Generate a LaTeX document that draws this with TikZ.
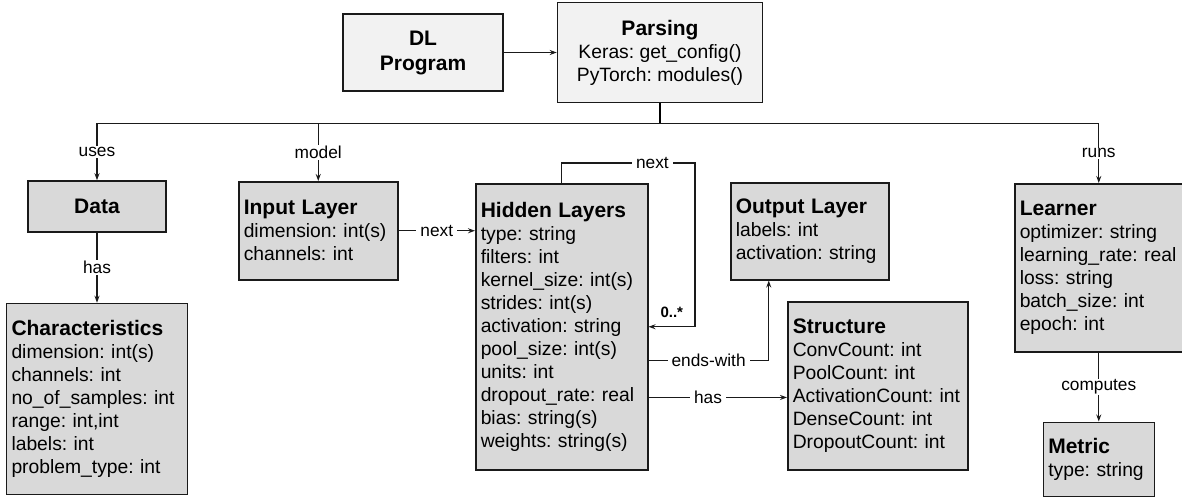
\documentclass[tikz,border=0pt]{standalone}
\usepackage{fontspec}
\setmainfont{Liberation Sans}
\usetikzlibrary{arrows.meta, positioning}
\definecolor{cline}{HTML}{1A1A1A}
\definecolor{clight}{HTML}{F2F2F2}
\definecolor{cdark}{HTML}{D9D9D9}
\frenchspacing
\newcommand{\cname}[1]{{\fontsize{21}{23}\selectfont\bfseries #1}}
\tikzset{
  every picture/.style={font=\fontsize{19.3}{23}\selectfont, line width=1.3pt},
}

\begin{document}
\begin{tikzpicture}[x=1pt, y=-1pt,
  headbox/.style={draw=cline, fill=clight, line width=1.5pt, align=center, inner sep=0pt},
  classbox/.style 2 args={draw=cline, fill=cdark, line width=1.5pt, anchor=north west, align=left, inner xsep=5pt, inner ysep=0pt, text width=#1, minimum height=#2},
  rel/.style={fill=white, inner xsep=4pt, inner ysep=1pt, font=\fontsize{17.3}{20}\selectfont},
  arrow/.style={-{Stealth[length=7pt, width=5pt]}, draw=cline}]
  \useasboundingbox (0,0) rectangle (1182,496);
  \node[headbox, minimum width=160pt, minimum height=77pt, font=\fontsize{21}{25}\selectfont\bfseries] (dl) at (423,52.5) {DL\\Program};
  \node[headbox, minimum width=205pt, minimum height=100pt, right=53pt of dl] (parse) {\cname{Parsing}\\Keras: get\_config()\\PyTorch: modules()};
  \node[headbox, fill=cdark, minimum width=138pt, minimum height=51pt] (data) at (97,206.5) {\cname{Data}};
  \node[classbox={171pt}{191pt}, below=70pt of data] (chars) {\cname{Characteristics}\\dimension: int(s)\\channels: int\\no\_of\_samples: int\\range: int,int\\labels: int\\problem\_type: int};
  \node[classbox={149pt}{98pt}] (input) at (238,181) {\cname{Input Layer}\\dimension: int(s)\\channels: int};
  \node[classbox={162pt}{286pt}] (hidden) at (475,183) {\cname{Hidden Layers}\\type: string\\filters: int\\kernel\_size: int(s)\\strides: int(s)\\activation: string\\pool\_size: int(s)\\units: int\\dropout\_rate: real\\bias: string(s)\\weights: string(s)};
  \node[classbox={148pt}{97pt}] (output) at (730,182) {\cname{Output Layer}\\labels: int\\activation: string};
  \node[classbox={170pt}{168pt}] (struct) at (787,301) {\cname{Structure}\\ConvCount: int\\PoolCount: int\\ActivationCount: int\\DenseCount: int\\DropoutCount: int};
  \node[classbox={158pt}{168pt}] (learner) at (1014,183) {\cname{Learner}\\optimizer: string\\learning\_rate: real\\loss: string\\batch\_size: int\\epoch: int};
  \node[classbox={101pt}{74pt}, below=69pt of learner] (metric) {\cname{Metric}\\type: string};

  \draw[arrow] (dl.east) -- (dl.east -| parse.west);
  \draw (parse.south) -- ++(0,20.5) coordinate (bus);
  \draw[arrow] (bus) -| node[rel, pos=0.75] {uses} (data.north);
  \draw[arrow] (bus) -| node[rel, pos=0.75] {model} (input.north);
  \draw[arrow] (bus) -| node[rel, pos=0.75] {runs} (learner.north);
  \draw[arrow] (data.south) -- node[rel] {has} (data.south |- chars.north);
  \draw[arrow] (input.east) -- node[rel] {next} (input.east -| hidden.west);
  \draw[arrow] (hidden.north) |- node[rel, pos=0.84] {next} ([shift={(46.5pt,20pt)}]hidden.north east) |- node[pos=0.75, above=7pt, inner sep=1pt, font=\fontsize{15}{18}\selectfont\bfseries] {0..*} (hidden.east);
  \draw[arrow] ([yshift=-34pt]hidden.east) -| node[rel, pos=0.25] {ends-with} ([xshift=-41pt]output.south);
  \draw[arrow] ([yshift=-70.7pt]hidden.east) coordinate (hasfrom) -- node[rel, pos=0.43] {has} (hasfrom -| struct.west);
  \draw[arrow] (learner.south) -- node[rel] {computes} (learner.south |- metric.north);
\end{tikzpicture}
\end{document}
